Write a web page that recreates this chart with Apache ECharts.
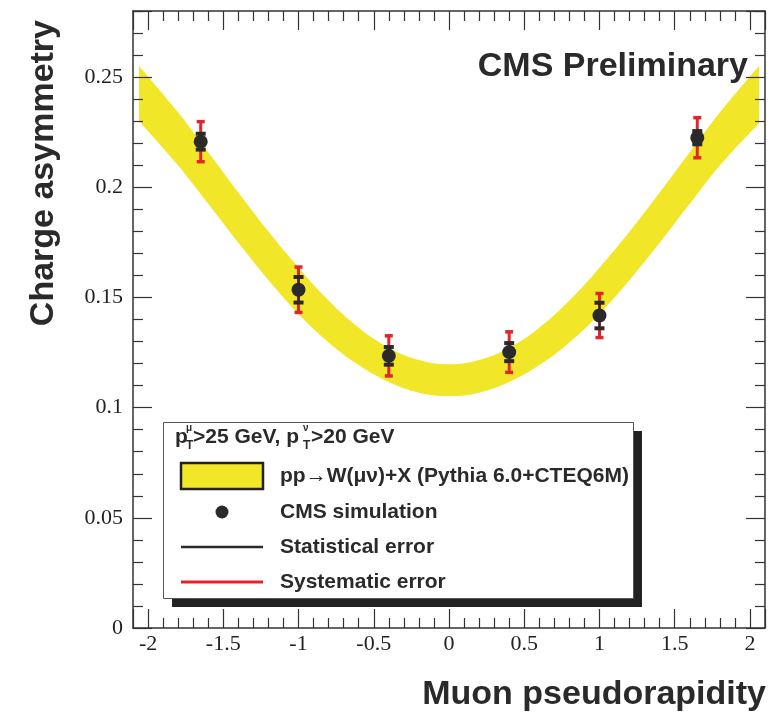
<!DOCTYPE html>
<html>
<head>
<meta charset="utf-8">
<script src="https://cdn.jsdelivr.net/npm/echarts@6/dist/echarts.min.js"></script>
<style>
  html, body { margin: 0; padding: 0; background: #fff; }
  #chart { width: 776px; height: 714px; }
</style>
</head>
<body>
<div id="chart"></div>
<script>
// Measured muon charge asymmetry (CMS simulation)
const etaPoints = [-1.65, -1.0, -0.4, 0.4, 1.0, 1.65];
const asym      = [0.2207, 0.1535, 0.1235, 0.1252, 0.1418, 0.2225];
const statErr   = [0.0036, 0.0058, 0.0040, 0.0041, 0.0058, 0.0030];
const systErr   = [0.0091, 0.0103, 0.0091, 0.0092, 0.0100, 0.0091];

// Pythia 6.0 + CTEQ6M prediction band (lower / upper edge)
const bandEta  = [-2.06, -1.8, -1.6, -1.4, -1.2, -1.0, -0.8, -0.6, -0.4, -0.2, 0.0,
                   0.2, 0.4, 0.6, 0.8, 1.0, 1.2, 1.4, 1.6, 1.8, 2.06];
const bandLow  = [0.2300, 0.2099, 0.1925, 0.1748, 0.1579, 0.1425, 0.1296, 0.1193, 0.1116, 0.1068, 0.1053,
                  0.1068, 0.1116, 0.1193, 0.1296, 0.1425, 0.1579, 0.1748, 0.1925, 0.2099, 0.2290];
const bandHigh = [0.2550, 0.2339, 0.2159, 0.1976, 0.1799, 0.1635, 0.1486, 0.1363, 0.1272, 0.1216, 0.1197,
                  0.1216, 0.1272, 0.1363, 0.1486, 0.1635, 0.1799, 0.1976, 0.2159, 0.2339, 0.2550];

const xTickRange = [-2.1, 2.1];
const yTickRange = [0, 0.28];
const yTickStep = 0.05;

const SANS = 'Liberation Sans, Arial, Helvetica, sans-serif';
const SERIF = 'Liberation Serif, Times New Roman, serif';
const FRAME = '#333';
const YELLOW = '#f2e629';
const RED = '#e1262b';
const DARK = '#2a2a2a';

const chart = echarts.init(document.getElementById('chart'), null, { renderer: 'canvas' });

function errorBars(color, capHalf, capWidth, lineWidth) {
  return function (params, api) {
    const x = api.value(0);
    const lo = api.coord([x, api.value(1)]);
    const hi = api.coord([x, api.value(2)]);
    const bar = { stroke: color, lineWidth: lineWidth };
    const cap = { stroke: color, lineWidth: capWidth };
    return {
      type: 'group',
      children: [
        { type: 'line', shape: { x1: lo[0], y1: lo[1], x2: hi[0], y2: hi[1] }, style: bar },
        { type: 'line', shape: { x1: lo[0] - capHalf, y1: lo[1], x2: lo[0] + capHalf, y2: lo[1] }, style: cap },
        { type: 'line', shape: { x1: hi[0] - capHalf, y1: hi[1], x2: hi[0] + capHalf, y2: hi[1] }, style: cap }
      ]
    };
  };
}

// frame axes sit above the band fill so the inward ticks stay visible
function xAxisDef(pos, labels) {
  return {
    type: 'value', position: pos, z: 6,
    min: xTickRange[0], max: xTickRange[1], splitNumber: 8,
    axisLine: { show: true, onZero: false, lineStyle: { color: FRAME, width: 1.5 } },
    axisTick: { show: true, inside: true, length: 19, lineStyle: { color: FRAME, width: 1.2 } },
    minorTick: { show: true, splitNumber: 5, length: 10, lineStyle: { color: FRAME, width: 1.2 } },
    splitLine: { show: false },
    axisLabel: {
      show: labels, showMinLabel: false, showMaxLabel: false,
      fontFamily: SERIF, fontSize: 22, color: '#222', margin: 5
    }
  };
}

function yAxisDef(pos, labels) {
  return {
    type: 'value', position: pos, z: 6,
    min: yTickRange[0], max: yTickRange[1], interval: yTickStep,
    axisLine: { show: true, onZero: false, lineStyle: { color: FRAME, width: 1.5 } },
    axisTick: { show: true, inside: true, length: 19, lineStyle: { color: FRAME, width: 1.2 } },
    minorTick: { show: true, splitNumber: 5, length: 10, lineStyle: { color: FRAME, width: 1.2 } },
    splitLine: { show: false },
    axisLabel: {
      show: labels, showMaxLabel: false,
      fontFamily: SERIF, fontSize: 22, color: '#222', margin: 10
    }
  };
}

const legendRows = [
  { text: 'pp\u2192W(\u03bc\u03bd)+X (Pythia 6.0+CTEQ6M)', y: 476 },
  { text: 'CMS simulation', y: 512 },
  { text: 'Statistical error', y: 547 },
  { text: 'Systematic error', y: 582 }
];

const HEAD_FONT = 'bold 21px ' + SANS;
const legendGraphics = [
  { type: 'rect', shape: { x: 172, y: 431, width: 470, height: 176 }, style: { fill: '#222' }, z: 10 },
  { type: 'rect', shape: { x: 163.5, y: 422.5, width: 470, height: 176 }, style: { fill: '#fff', stroke: '#555', lineWidth: 1 }, z: 11 },
  // header: p_T^mu > 25 GeV, p_T^nu > 20 GeV
  { type: 'text', z: 12, style: { text: 'p', x: 175, y: 437, font: HEAD_FONT, fill: DARK, textVerticalAlign: 'middle' } },
  { type: 'text', z: 12, style: { text: '\u03bc', x: 186, y: 428, font: 'bold 10px ' + SANS, fill: DARK, textVerticalAlign: 'middle' } },
  { type: 'text', z: 12, style: { text: 'T', x: 186, y: 446, font: 'bold 12px ' + SANS, fill: DARK, textVerticalAlign: 'middle' } },
  { type: 'text', z: 12, style: { text: '>25 GeV, p', x: 193, y: 437, font: HEAD_FONT, fill: DARK, textVerticalAlign: 'middle' } },
  { type: 'text', z: 12, style: { text: '\u03bd', x: 303, y: 428, font: 'bold 10px ' + SANS, fill: DARK, textVerticalAlign: 'middle' } },
  { type: 'text', z: 12, style: { text: 'T', x: 303, y: 446, font: 'bold 12px ' + SANS, fill: DARK, textVerticalAlign: 'middle' } },
  { type: 'text', z: 12, style: { text: '>20 GeV', x: 311, y: 437, font: HEAD_FONT, fill: DARK, textVerticalAlign: 'middle' } },
  // legend keys
  { type: 'rect', z: 12, shape: { x: 181, y: 463, width: 82, height: 26 }, style: { fill: YELLOW, stroke: '#222', lineWidth: 2.5 } },
  { type: 'circle', z: 12, shape: { cx: 222, cy: 512, r: 6.5 }, style: { fill: DARK } },
  { type: 'line', z: 12, shape: { x1: 181, y1: 547, x2: 263, y2: 547 }, style: { stroke: DARK, lineWidth: 2.5 } },
  { type: 'line', z: 12, shape: { x1: 181, y1: 582, x2: 263, y2: 582 }, style: { stroke: RED, lineWidth: 3 } }
].concat(legendRows.map(r => ({
  type: 'text', z: 12,
  style: { text: r.text, x: 280, y: r.y, font: 'bold 21px ' + SANS, fill: DARK, textVerticalAlign: 'middle' }
})));

const titleGraphics = [
  { type: 'text', z: 12, style: { text: 'CMS Preliminary', x: 748, y: 84, font: 'bold 34px ' + SANS, fill: DARK, textAlign: 'right', textVerticalAlign: 'bottom' } },
  { type: 'text', z: 12, style: { text: 'Muon pseudorapidity', x: 766, y: 712, font: 'bold 34px ' + SANS, fill: DARK, textAlign: 'right', textVerticalAlign: 'bottom' } },
  { type: 'text', z: 12, x: 44, y: 20, rotation: Math.PI / 2,
    style: { text: 'Charge asymmetry', x: 0, y: 0, font: 'bold 34px ' + SANS, fill: DARK, textAlign: 'right', textVerticalAlign: 'middle' } }
];

const option = {
  animation: false,
  backgroundColor: '#fff',
  grid: { left: 133, right: 11, top: 11, bottom: 86, containLabel: false },
  xAxis: [xAxisDef('bottom', true), xAxisDef('top', false)],
  yAxis: [yAxisDef('left', true), yAxisDef('right', false)],
  series: [
    {
      // upper edge of the prediction, filled yellow down to the axis
      name: 'pp\u2192W(\u03bc\u03bd)+X', type: 'line', smooth: 0.4, symbol: 'none', silent: true,
      data: bandEta.map((x, i) => [x, bandHigh[i]]),
      lineStyle: { width: 0, opacity: 0 }, areaStyle: { color: YELLOW, opacity: 1 }, z: 1
    },
    {
      // lower edge of the prediction, cleared back to white below it
      name: 'band-low', type: 'line', smooth: 0.4, symbol: 'none', silent: true,
      data: bandEta.map((x, i) => [x, bandLow[i]]),
      lineStyle: { width: 0, opacity: 0 }, areaStyle: { color: '#fff', opacity: 1 }, z: 2
    },
    {
      name: 'Systematic error', type: 'custom', z: 3,
      renderItem: errorBars(RED, 4, 3.5, 3),
      data: etaPoints.map((x, i) => [x, asym[i] - systErr[i], asym[i] + systErr[i]])
    },
    {
      name: 'Statistical error', type: 'custom', z: 4,
      renderItem: errorBars(DARK, 5, 4, 2),
      data: etaPoints.map((x, i) => [x, asym[i] - statErr[i], asym[i] + statErr[i]])
    },
    {
      name: 'CMS simulation', type: 'scatter', z: 5,
      symbol: 'circle', symbolSize: 14,
      itemStyle: { color: DARK, opacity: 1 },
      data: etaPoints.map((x, i) => [x, asym[i]])
    }
  ],
  graphic: legendGraphics.concat(titleGraphics)
};

chart.setOption(option);
</script>
</body>
</html>
